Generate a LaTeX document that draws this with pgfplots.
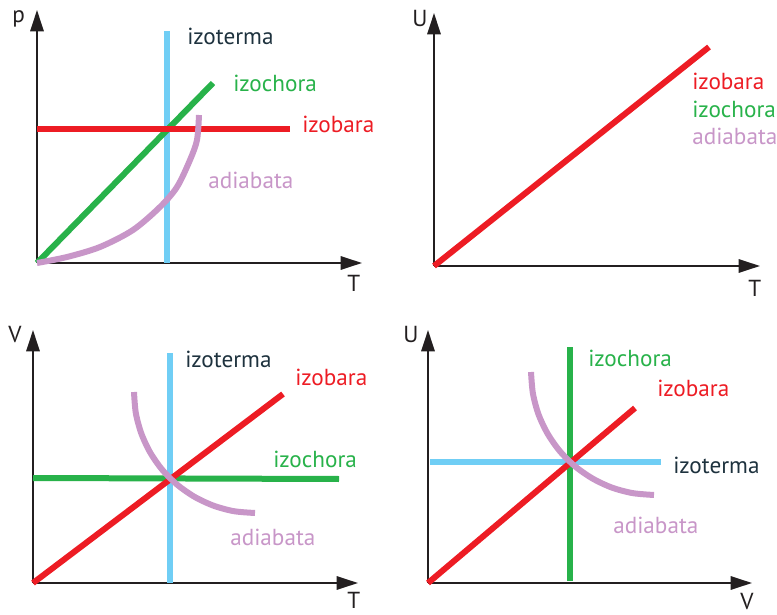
\documentclass[border=0pt]{standalone}
\usepackage{fontspec}
\setmainfont{PT Sans}
\usepackage{pgfplots}
\pgfplotsset{compat=1.18}
\usetikzlibrary{arrows.meta}
\definecolor{cred}{RGB}{237,28,36}
\definecolor{cgreen}{RGB}{40,178,74}
\definecolor{ccyan}{RGB}{112,206,245}
\definecolor{clilac}{RGB}{200,150,200}
\definecolor{cdark}{RGB}{30,50,62}
\definecolor{caxis}{RGB}{35,31,32}

% 1 px of the reference = 0.75pt
\pgfplotsset{
  diag/.style={
    x=0.75pt, y=0.75pt,
    xmin=0, ymin=0,
    anchor=origin,
    axis lines=left,
    axis line style={caxis, line width=1.5pt, -{Triangle[length=16pt,width=10pt]}},
    ticks=none,
    clip=false,
    every axis plot/.append style={line width=4.5pt, no markers},
    nodes={font=\fontsize{17.4}{20}\selectfont, anchor=base west, inner sep=0pt},
  },
}

\begin{document}
\begin{tikzpicture}
\path[use as bounding box] (0,0) rectangle (582.75pt,460.5pt);

% top left: p-T
\begin{axis}[diag, at={(27.75pt,263.25pt)}, xmax=325, ymax=253]
\addplot[ccyan] coordinates {(130,0) (130,232)};
\addplot[cgreen] coordinates {(0,0) (176,180)};
\addplot[cred] coordinates {(0,134) (253,134)};
\addplot[clilac, smooth] coordinates {(0,0) (30,6) (63,16) (96,33) (123,56) (140,76) (153,103) (160,123) (162,148)};
\node[text=cdark] at (axis cs:150,218) {izoterma};
\node[text=cgreen] at (axis cs:196,171) {izochora};
\node[text=cred] at (axis cs:265,130) {izobara};
\node[text=clilac] at (axis cs:171,74) {adiabata};
\node[text=caxis] at (axis cs:-25,240) {p};
\node[text=caxis] at (axis cs:310,-29) {T};
\end{axis}

% top right: U-T
\begin{axis}[diag, at={(325.5pt,261pt)}, xmax=326, ymax=253]
\addplot[cred] coordinates {(0,0) (275,219)};
\node[text=cred] at (axis cs:258,176) {izobara};
\node[text=cgreen] at (axis cs:258,148) {izochora};
\node[text=clilac] at (axis cs:258,121) {adiabata};
\node[text=caxis] at (axis cs:-22,239) {U};
\node[text=caxis] at (axis cs:314,-31) {T};
\end{axis}

% bottom left: V-T
\begin{axis}[diag, at={(24.75pt,23.25pt)}, xmax=325, ymax=253]
\addplot[ccyan] coordinates {(137,0) (137,230)};
\addplot[cgreen] coordinates {(0,105) (306,104)};
\addplot[cred] coordinates {(0,0) (250,189)};
\addplot[clilac, smooth] coordinates {(101,191) (102.8,170.0) (108.3,149.6) (117.2,130.5) (129.3,113.2) (144.2,98.3) (161.5,86.2) (180.6,77.3) (201.0,71.8) (222,70)};
\node[text=cdark] at (axis cs:152,215) {izoterma};
\node[text=cred] at (axis cs:262,197) {izobara};
\node[text=cgreen] at (axis cs:240,116) {izochora};
\node[text=clilac] at (axis cs:197,38) {adiabata};
\node[text=caxis] at (axis cs:-25,240) {V};
\node[text=caxis] at (axis cs:314,-25) {T};
\end{axis}

% bottom right: U-V
\begin{axis}[diag, at={(321pt,23.25pt)}, xmax=324, ymax=253]
\addplot[cgreen] coordinates {(142,2) (142,236)};
\addplot[ccyan] coordinates {(2,121) (233,121)};
\addplot[cred] coordinates {(0,0) (207,175)};
\addplot[clilac, smooth] coordinates {(103,211) (104.9,189.6) (110.4,168.9) (119.5,149.5) (131.8,131.9) (146.9,116.8) (164.5,104.5) (183.9,95.4) (204.6,89.9) (226,88)};
\node[text=cgreen] at (axis cs:160,216) {izochora};
\node[text=cred] at (axis cs:229,187) {izobara};
\node[text=cdark] at (axis cs:245,110) {izoterma};
\node[text=clilac] at (axis cs:185,50) {adiabata};
\node[text=caxis] at (axis cs:-25,240) {U};
\node[text=caxis] at (axis cs:312,-26) {V};
\end{axis}
\end{tikzpicture}
\end{document}
